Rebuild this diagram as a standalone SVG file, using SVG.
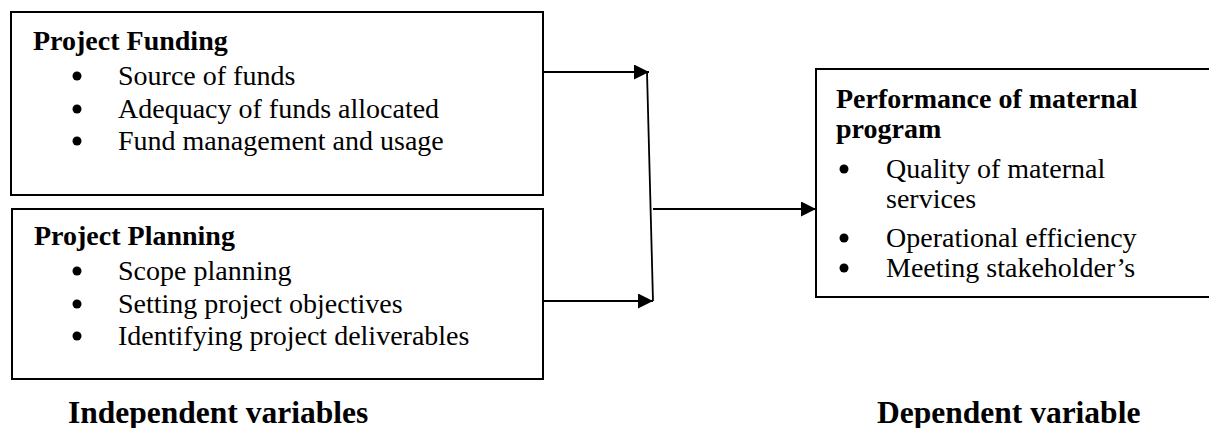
<svg xmlns="http://www.w3.org/2000/svg" width="1209" height="428" viewBox="0 0 1209 428">
<style>
.box{fill:#fff;stroke:#000;stroke-width:2}
.t{font-family:"Liberation Serif","Times New Roman",serif;font-size:28px;fill:#000}
.b{font-weight:bold}
.lbl{font-family:"Liberation Serif","Times New Roman",serif;font-size:31.5px;font-weight:bold;fill:#000}
.c{stroke:#000;stroke-width:1.8;fill:none}
</style>
<defs>
<marker id="ah" viewBox="0 0 10 10" refX="10" refY="5" markerWidth="15" markerHeight="15" markerUnits="userSpaceOnUse" orient="auto">
<path d="M0,0 L10,5 L0,10 Z" fill="#000"/>
</marker>
</defs>
<rect width="1209" height="428" fill="#fff"/>
<g id="funding">
<rect class="box" x="11" y="12" width="532" height="183"/>
<text class="t b" x="33" y="50">Project Funding</text>
<circle cx="77" cy="76" r="4.5"/><text class="t" x="118" y="85">Source of funds</text>
<circle cx="77" cy="109" r="4.5"/><text class="t" x="118" y="118">Adequacy of funds allocated</text>
<circle cx="77" cy="141" r="4.5"/><text class="t" x="118" y="150">Fund management and usage</text>
</g>
<g id="planning">
<rect class="box" x="12" y="209" width="531" height="170"/>
<text class="t b" x="34" y="245">Project Planning</text>
<circle cx="77" cy="271" r="4.5"/><text class="t" x="118" y="280">Scope planning</text>
<circle cx="77" cy="304" r="4.5"/><text class="t" x="118" y="313">Setting project objectives</text>
<circle cx="77" cy="336" r="4.5"/><text class="t" x="118" y="345">Identifying project deliverables</text>
</g>
<g id="performance">
<rect class="box" x="816" y="69" width="400" height="228"/>
<text class="t b" x="836" y="108">Performance of maternal</text>
<text class="t b" x="836" y="138">program</text>
<circle cx="844" cy="169" r="4.5"/><text class="t" x="886" y="178">Quality of maternal</text>
<text class="t" x="886" y="208">services</text>
<circle cx="844" cy="238" r="4.5"/><text class="t" x="886" y="247">Operational efficiency</text>
<circle cx="844" cy="268" r="4.5"/><text class="t" x="886" y="277">Meeting stakeholder’s</text>
</g>
<g id="connectors">
<line class="c" x1="544" y1="72" x2="649" y2="72" marker-end="url(#ah)"/>
<line class="c" x1="544" y1="301" x2="653" y2="301" marker-end="url(#ah)"/>
<line class="c" x1="647" y1="72" x2="653" y2="301"/>
<line class="c" x1="653" y1="209" x2="816" y2="209" marker-end="url(#ah)"/>
</g>
<text class="lbl" x="68" y="423">Independent variables</text>
<text class="lbl" x="877" y="423">Dependent variable</text>
</svg>
